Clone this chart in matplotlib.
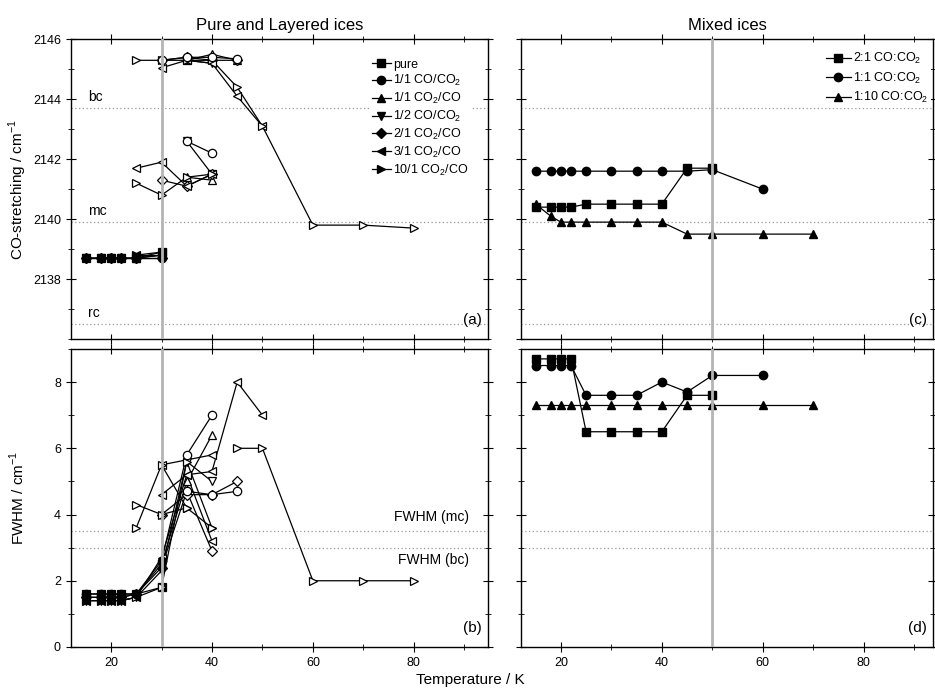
import matplotlib
matplotlib.use("Agg")
import matplotlib.pyplot as plt
from matplotlib.ticker import MultipleLocator

plt.rcParams['font.family'] = ['Liberation Sans', 'DejaVu Sans']
plt.rcParams['mathtext.fontset'] = 'custom'
plt.rcParams['mathtext.rm'] = 'Liberation Sans'

# =========================
# DATA: layered ices (temperature in K)
# each branch: temperatures, values, number of leading filled points
# =========================
layered_labels = ['pure', '1/1 CO/CO$_2$', '1/1 CO$_2$/CO', '1/2 CO/CO$_2$',
                  '2/1 CO$_2$/CO', '3/1 CO$_2$/CO', '10/1 CO$_2$/CO']
layered_markers = ['s', 'o', '^', 'v', 'D', '<', '>']

# CO-stretching peak position / cm-1
pos_pure = [([15, 18, 20, 22, 25, 30], [2138.7, 2138.7, 2138.7, 2138.7, 2138.7, 2138.9], 6)]
pos_co_co2_11 = [([15, 18, 20, 22, 25, 30], [2138.7, 2138.7, 2138.7, 2138.7, 2138.7, 2138.7], 6),
                 ([35, 40], [2142.6, 2142.2], 0),
                 ([30, 35, 40, 45], [2145.3, 2145.4, 2145.4, 2145.35], 0)]
pos_co2_co_11 = [([25, 30], [2138.7, 2138.8], 2),
                 ([35, 40], [2141.4, 2141.3], 0),
                 ([35, 40, 45], [2145.3, 2145.5, 2145.3], 0)]
pos_co_co2_12 = [([15, 18, 20, 22, 25, 30], [2138.7, 2138.7, 2138.7, 2138.7, 2138.7, 2138.8], 6),
                 ([35, 40], [2142.6, 2141.5], 0),
                 ([35, 40], [2145.3, 2145.2], 0)]
pos_co2_co_21 = [([15, 18, 20, 22, 25, 30], [2138.7, 2138.7, 2138.7, 2138.7, 2138.7, 2138.7], 6),
                 ([30, 35, 40], [2141.3, 2141.1, 2141.5], 0),
                 ([30, 35, 40, 45], [2145.3, 2145.4, 2145.3, 2145.3], 0)]
pos_co2_co_31 = [([25, 30], [2138.8, 2138.9], 2),
                 ([25, 30, 35, 40], [2141.7, 2141.9, 2141.1, 2141.5], 0),
                 ([30, 35, 40, 45, 50], [2145.05, 2145.3, 2145.2, 2144.1, 2143.1], 0)]
pos_co2_co_101 = [([25, 30], [2138.8, 2138.8], 2),
                  ([25, 30, 35, 40], [2141.2, 2140.8, 2141.4, 2141.5], 0),
                  ([25, 30, 35, 40, 45, 50, 60, 70, 80],
                   [2145.3, 2145.3, 2145.3, 2145.3, 2144.4, 2143.1, 2139.8, 2139.8, 2139.7], 0)]

# FWHM / cm-1
fw_pure = [([15, 18, 20, 22, 25, 30], [1.6, 1.6, 1.6, 1.6, 1.6, 1.8], 6)]
fw_co_co2_11 = [([15, 18, 20, 22, 25, 30, 35, 40], [1.6, 1.6, 1.6, 1.6, 1.6, 2.6, 5.8, 7.0], 6),
                ([35, 40, 45], [4.7, 4.6, 4.7], 0)]
fw_co2_co_11 = [([15, 18, 20, 22, 25, 30, 35, 40], [1.5, 1.5, 1.5, 1.5, 1.6, 2.5, 5.0, 6.4], 5)]
fw_co_co2_12 = [([15, 18, 20, 22, 25, 30, 35, 40], [1.4, 1.4, 1.4, 1.4, 1.5, 2.3, 5.6, 5.0], 6)]
fw_co2_co_21 = [([15, 18, 20, 22, 25, 30, 35, 40], [1.5, 1.5, 1.5, 1.5, 1.6, 2.4, 4.7, 2.9], 6),
                ([30, 35, 40, 45], [4.0, 4.6, 4.6, 5.0], 0)]
fw_co2_co_31 = [([15, 18, 20, 22, 25, 30, 35, 40], [1.4, 1.4, 1.4, 1.4, 1.5, 2.7, 5.2, 3.2], 5),
                ([30, 35, 40, 45, 50], [4.6, 5.2, 5.3, 8.0, 7.0], 0),
                ([30, 40], [5.5, 5.8], 0)]
fw_co2_co_101 = [([15, 18, 20, 22, 25, 30, 35, 40], [1.4, 1.4, 1.4, 1.4, 1.5, 1.8, 5.6, 3.6], 4),
                 ([25, 30, 35, 40], [3.6, 5.5, 4.2, 3.6], 0),
                 ([25, 30, 35], [4.3, 4.0, 4.2], 0),
                 ([45, 50, 60, 70, 80], [6.0, 6.0, 2.0, 2.0, 2.0], 0)]

layered_pos = [pos_pure, pos_co_co2_11, pos_co2_co_11, pos_co_co2_12,
               pos_co2_co_21, pos_co2_co_31, pos_co2_co_101]
layered_fw = [fw_pure, fw_co_co2_11, fw_co2_co_11, fw_co_co2_12,
              fw_co2_co_21, fw_co2_co_31, fw_co2_co_101]

# =========================
# DATA: mixed ices
# =========================
mixed_labels = ['2:1 CO:CO$_2$', '1:1 CO:CO$_2$', '1:10 CO:CO$_2$']
mixed_markers = ['s', 'o', '^']
mix_T_21 = [15, 18, 20, 22, 25, 30, 35, 40, 45, 50]
mix_T_11 = [15, 18, 20, 22, 25, 30, 35, 40, 45, 50, 60]
mix_T_110 = [15, 18, 20, 22, 25, 30, 35, 40, 45, 50, 60, 70]
mix_pos_21 = [2140.4, 2140.4, 2140.4, 2140.4, 2140.5, 2140.5, 2140.5, 2140.5, 2141.7, 2141.7]
mix_pos_11 = [2141.6, 2141.6, 2141.6, 2141.6, 2141.6, 2141.6, 2141.6, 2141.6, 2141.6, 2141.65, 2141.0]
mix_pos_110 = [2140.5, 2140.1, 2139.9, 2139.9, 2139.9, 2139.9, 2139.9, 2139.9, 2139.5, 2139.5, 2139.5, 2139.5]
mix_fw_21 = [8.7, 8.7, 8.7, 8.7, 6.5, 6.5, 6.5, 6.5, 7.6, 7.6]
mix_fw_11 = [8.5, 8.5, 8.5, 8.5, 7.6, 7.6, 7.6, 8.0, 7.7, 8.2, 8.2]
mix_fw_110 = [7.3, 7.3, 7.3, 7.3, 7.3, 7.3, 7.3, 7.3, 7.3, 7.3, 7.3, 7.3]

# reference bands
CO_BC, CO_MC, CO_RC = 2143.7, 2139.9, 2136.5
FWHM_MC, FWHM_BC = 3.5, 3.0

MS = 6


def msize(marker):
    # diamonds look bigger than the other symbols at the same size
    return MS * 0.8 if marker == 'D' else MS


# =========================
# FIGURE
# =========================
fig = plt.figure(figsize=(9.35, 6.91), dpi=100)
ax_a = fig.add_axes([0.0756, 0.5094, 0.4463, 0.4337])
ax_b = fig.add_axes([0.0756, 0.0637, 0.4463, 0.4313])
ax_c = fig.add_axes([0.5572, 0.5094, 0.4406, 0.4337])
ax_d = fig.add_axes([0.5572, 0.0637, 0.4406, 0.4313])


def draw_branches(ax, branches, marker, z, label=None):
    for T, v, nfill in branches:
        ax.plot(T, v, color='k', lw=0.9, zorder=2)
        if nfill > 0:
            ax.plot(T[:nfill], v[:nfill], ls='none', marker=marker, ms=msize(marker),
                    mfc='k', mec='k', mew=0.9, zorder=z)
        if nfill < len(T):
            ax.plot(T[nfill:], v[nfill:], ls='none', marker=marker, ms=msize(marker),
                    mfc='white', mec='k', mew=0.9, zorder=z)
    if label is not None:
        ax.plot([], [], color='k', lw=0.9, marker=marker, ms=msize(marker),
                mfc='k', mec='k', label=label)


# circles sit on top of the low temperature cluster
zorders = [3, 3.6, 3.1, 3.2, 3.3, 3.4, 3.5]
for lab, mk, pos, fw, z in zip(layered_labels, layered_markers, layered_pos, layered_fw, zorders):
    draw_branches(ax_a, pos, mk, z, lab)
    draw_branches(ax_b, fw, mk, z)

for lab, mk, T, pos, fw in zip(mixed_labels, mixed_markers,
                               [mix_T_21, mix_T_11, mix_T_110],
                               [mix_pos_21, mix_pos_11, mix_pos_110],
                               [mix_fw_21, mix_fw_11, mix_fw_110]):
    ax_c.plot(T, pos, color='k', lw=0.9, marker=mk, ms=MS, mfc='k', label=lab, zorder=3)
    ax_d.plot(T, fw, color='k', lw=0.9, marker=mk, ms=MS, mfc='k', zorder=3)

# reference lines
for ax in (ax_a, ax_c):
    for yv in (CO_BC, CO_MC, CO_RC):
        ax.axhline(yv, color='#999999', ls=(0, (1, 2)), lw=0.9, zorder=1)
    ax.set_ylim(2136, 2146)
    ax.yaxis.set_major_locator(MultipleLocator(2))
    ax.yaxis.set_minor_locator(MultipleLocator(1))
for ax in (ax_b, ax_d):
    for yv in (FWHM_MC, FWHM_BC):
        ax.axhline(yv, color='#999999', ls=(0, (1, 2)), lw=0.9, zorder=1)
    ax.set_ylim(0, 9)
    ax.yaxis.set_major_locator(MultipleLocator(2))
    ax.yaxis.set_minor_locator(MultipleLocator(1))

ax_a.text(15.4, CO_BC + 0.15, 'bc', fontsize=10, va='bottom')
ax_a.text(15.4, CO_MC + 0.15, 'mc', fontsize=10, va='bottom')
ax_a.text(15.4, CO_RC + 0.15, 'rc', fontsize=10, va='bottom')
ax_b.text(91, FWHM_MC + 0.2, 'FWHM (mc)', fontsize=10, ha='right', va='bottom')
ax_b.text(91, FWHM_BC - 0.15, 'FWHM (bc)', fontsize=10, ha='right', va='top')

# phase transition markers
for ax in (ax_a, ax_b):
    ax.axvline(30, color='#b4b4b4', lw=2, zorder=4)
for ax in (ax_c, ax_d):
    ax.axvline(50, color='#b4b4b4', lw=2, zorder=4)

for ax, tag in zip((ax_a, ax_b, ax_c, ax_d), ('(a)', '(b)', '(c)', '(d)')):
    ax.text(0.985, 0.04, tag, transform=ax.transAxes, ha='right', va='bottom', fontsize=11)
    ax.xaxis.set_major_locator(MultipleLocator(20))
    ax.xaxis.set_minor_locator(MultipleLocator(10))
    ax.tick_params(which='both', direction='inout', top=True, right=True, labelsize=9)
    ax.tick_params(which='major', length=7)
    ax.tick_params(which='minor', length=5)
    for sp in ax.spines.values():
        sp.set_linewidth(1.0)

ax_a.set_xlim(12, 94.7)
ax_b.set_xlim(12, 94.7)
ax_c.set_xlim(12.1, 93.7)
ax_d.set_xlim(12.1, 93.7)
ax_a.set_yticks([2138, 2140, 2142, 2144, 2146])
ax_b.set_yticks([0, 2, 4, 6, 8])
for ax in (ax_a, ax_c):
    ax.tick_params(labelbottom=False)
for ax in (ax_c, ax_d):
    ax.tick_params(labelleft=False)

ax_a.set_title('Pure and Layered ices', fontsize=12, pad=6.5)
ax_c.set_title('Mixed ices', fontsize=12, pad=6.5)
fig.text(0.019, 0.726, 'CO-stretching / cm$^{-1}$', rotation=90, ha='center', va='center', fontsize=11)
fig.text(0.019, 0.28, 'FWHM / cm$^{-1}$', rotation=90, ha='center', va='center', fontsize=11)
fig.text(0.503, 0.016, 'Temperature / K', ha='center', va='center', fontsize=11)

leg_kw = dict(frameon=True, edgecolor='none', facecolor='white', framealpha=1,
              fontsize=9, handletextpad=0.2, borderpad=0.2, loc='upper right')
ax_a.legend(**leg_kw, handlelength=1.5, labelspacing=0.22, bbox_to_anchor=(0.975, 0.965))
ax_c.legend(**leg_kw, handlelength=2.0, labelspacing=0.35, bbox_to_anchor=(1.01, 0.99))

fig.savefig('out.png', dpi=100)
